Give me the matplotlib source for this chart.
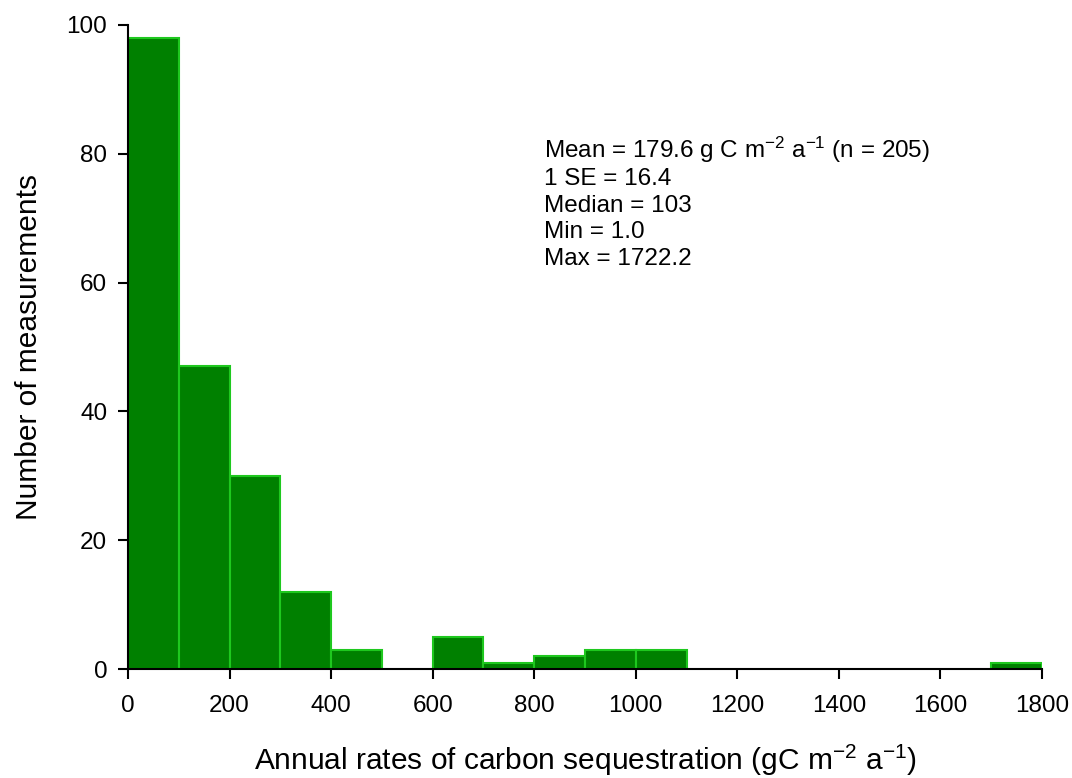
import numpy as np
import matplotlib
matplotlib.use("Agg")
import matplotlib.pyplot as plt

plt.rcParams["font.family"] = ["Liberation Sans", "DejaVu Sans"]
plt.rcParams["mathtext.fontset"] = "custom"
plt.rcParams["mathtext.rm"] = "Liberation Sans"
plt.rcParams["mathtext.it"] = "Liberation Sans:italic"

# histogram data: bin edges (gC m-2 a-1) and counts per bin
bin_edges = np.arange(0, 1900, 100)
counts = [98, 47, 30, 12, 3, 0, 5, 1, 2, 3, 3, 0, 0, 0, 0, 0, 0, 1]

stats_lines = [
    r"Mean = 179.6 g C m$^{-2}$ a$^{-1}$ (n = 205)",
    "1 SE = 16.4",
    "Median = 103",
    "Min = 1.0",
    "Max = 1722.2",
]

fig = plt.figure(figsize=(10.72, 7.78), dpi=100)
ax = fig.add_axes([0.1194, 0.1401, 0.8526, 0.8278])

left = bin_edges[:-1]
counts = np.array(counts)
mask = counts > 0
ax.bar(left[mask], counts[mask], width=100, align="edge",
       color="#008000", edgecolor="#1ec81e", linewidth=1.5)

ax.set_xlim(0, 1800)
ax.set_ylim(0, 100)
ax.set_xticks(np.arange(0, 1801, 200))
ax.set_yticks(np.arange(0, 101, 20))
for s in ["top", "right"]:
    ax.spines[s].set_visible(False)
for s in ["left", "bottom"]:
    ax.spines[s].set_linewidth(1.5)
ax.tick_params(direction="out", length=7, width=1.5, labelsize=17.5)
ax.tick_params(axis="x", pad=12)
ax.tick_params(axis="y", pad=8)

ax.set_xlabel(r"Annual rates of carbon sequestration (gC m$^{-2}$ a$^{-1}$)",
              fontsize=21.5, labelpad=18)
ax.set_ylabel("Number of measurements", fontsize=21.5, labelpad=17)

for i, line in enumerate(stats_lines):
    ax.text(0.455, 0.793 - i * 0.0415, line, transform=ax.transAxes,
            fontsize=17.5, va="baseline", ha="left")

fig.savefig("out.png", dpi=100)
